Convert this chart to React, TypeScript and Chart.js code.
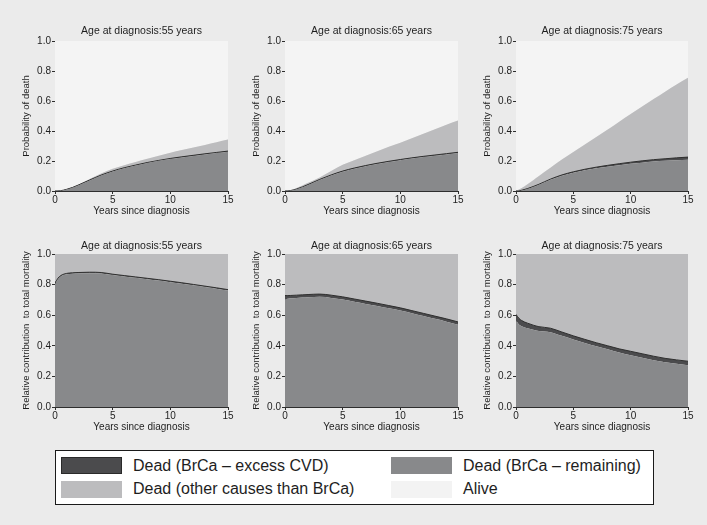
import React, { useEffect, useRef } from "react";
import { Chart, registerables } from "chart.js";

Chart.register(...registerables);

// ---------- data ----------
const YEARS = [0, 0.25, 0.5, 1, 1.5, 2, 3, 4, 5, 6, 7, 8, 9, 10, 11, 12, 13, 14, 15];
const X_TICKS = [0, 5, 10, 15];
const Y_TICKS = [0, 0.2, 0.4, 0.6, 0.8, 1.0];
const AGES = ["55", "65", "75"];

// Cumulative probability of death (upper boundary of each stacked band)
const PROB55_REMAINING = [0, 0.001, 0.002, 0.01, 0.022, 0.037, 0.07, 0.103, 0.13, 0.152, 0.17, 0.187, 0.201, 0.213, 0.224, 0.234, 0.244, 0.253, 0.262];
const PROB55_BRCA = [0, 0.001, 0.002, 0.011, 0.023, 0.039, 0.073, 0.106, 0.133, 0.155, 0.173, 0.19, 0.204, 0.217, 0.228, 0.238, 0.248, 0.257, 0.266];
const PROB55_TOTAL = [0, 0.001, 0.002, 0.012, 0.026, 0.042, 0.08, 0.117, 0.148, 0.172, 0.194, 0.215, 0.235, 0.255, 0.273, 0.29, 0.307, 0.325, 0.343];

const PROB65_REMAINING = [0, 0.001, 0.003, 0.012, 0.025, 0.04, 0.073, 0.103, 0.128, 0.148, 0.165, 0.18, 0.193, 0.205, 0.216, 0.226, 0.235, 0.244, 0.253];
const PROB65_BRCA = [0, 0.001, 0.003, 0.013, 0.027, 0.043, 0.077, 0.107, 0.133, 0.153, 0.17, 0.185, 0.198, 0.21, 0.221, 0.231, 0.24, 0.249, 0.258];
const PROB65_TOTAL = [0, 0.002, 0.006, 0.02, 0.037, 0.055, 0.09, 0.134, 0.175, 0.205, 0.235, 0.265, 0.295, 0.322, 0.352, 0.382, 0.412, 0.442, 0.47];

const PROB75_REMAINING = [0, 0.001, 0.004, 0.014, 0.027, 0.042, 0.075, 0.102, 0.122, 0.138, 0.151, 0.162, 0.172, 0.181, 0.189, 0.196, 0.201, 0.205, 0.209];
const PROB75_BRCA = [0, 0.001, 0.005, 0.016, 0.03, 0.045, 0.079, 0.107, 0.128, 0.145, 0.159, 0.171, 0.182, 0.192, 0.201, 0.209, 0.215, 0.221, 0.226];
const PROB75_TOTAL = [0, 0.01, 0.02, 0.045, 0.072, 0.1, 0.155, 0.21, 0.26, 0.31, 0.36, 0.41, 0.462, 0.513, 0.563, 0.613, 0.662, 0.71, 0.755];

// Relative contribution to total mortality (upper boundary of each band)
const REL55_REMAINING = [0.803, 0.835, 0.853, 0.867, 0.871, 0.873, 0.875, 0.873, 0.862, 0.853, 0.844, 0.835, 0.826, 0.816, 0.806, 0.795, 0.784, 0.773, 0.761];
const REL55_BRCA = [0.809, 0.841, 0.859, 0.873, 0.877, 0.879, 0.881, 0.879, 0.868, 0.859, 0.85, 0.841, 0.832, 0.822, 0.812, 0.801, 0.79, 0.779, 0.767];

const REL65_REMAINING = [0.705, 0.707, 0.71, 0.713, 0.715, 0.717, 0.72, 0.713, 0.702, 0.688, 0.674, 0.66, 0.645, 0.63, 0.612, 0.594, 0.576, 0.558, 0.538];
const REL65_BRCA = [0.728, 0.728, 0.729, 0.731, 0.733, 0.735, 0.738, 0.731, 0.72, 0.706, 0.692, 0.678, 0.663, 0.648, 0.63, 0.612, 0.594, 0.576, 0.556];

const REL75_REMAINING = [0.565, 0.54, 0.528, 0.515, 0.505, 0.497, 0.489, 0.465, 0.441, 0.418, 0.397, 0.377, 0.356, 0.338, 0.322, 0.306, 0.293, 0.283, 0.273];
const REL75_BRCA = [0.605, 0.58, 0.565, 0.548, 0.535, 0.525, 0.515, 0.49, 0.465, 0.442, 0.42, 0.4, 0.38, 0.364, 0.348, 0.332, 0.318, 0.308, 0.299];

const LABEL_EXCESS = "Dead (BrCa \u2013 excess CVD)";
const LABEL_REMAINING = "Dead (BrCa \u2013 remaining)";
const LABEL_OTHER = "Dead (other causes than BrCa)";
const LABEL_ALIVE = "Alive";

// ---------- style ----------
const FONT = "'Liberation Sans', Arial, Helvetica, sans-serif";
const BG = "#ebebeb";
const C_ALIVE = "#f4f4f4";
const C_OTHER = "#bcbcbe";
const C_REMAINING = "#88898b";
const C_EXCESS = "#4b4b4d";
const C_LINE = "#2e2e2e";
const C_TEXT = "#1e1e1e";

type Area = { l: number; t: number; r: number; b: number };

const Y_AXIS_W = 34;
const X_AXIS_H = 26;
const PAD_R = 8;
const PAD_B = 4;
const TITLE_SIZE = 10.5;
const TITLE_LH = TITLE_SIZE * 1.2;

function Panel(props: {
  title: string;
  yTitle: string;
  remaining: number[];
  brca: number[];
  total?: number[];
  area: Area;
  titleGap: number;
}) {
  const ref = useRef<HTMLCanvasElement | null>(null);
  const { area, titleGap } = props;
  const left = area.l - 55;
  const top = area.t - 40;
  const width = area.r - left + PAD_R;
  const height = area.b - top + X_AXIS_H + PAD_B;
  const titleBottomPad = titleGap - TITLE_LH / 2;
  const padTop = 40 - TITLE_LH - titleBottomPad;

  useEffect(() => {
    if (!ref.current) return;
    const mk = (arr: number[]) => YEARS.map((x, i) => ({ x, y: arr[i] }));
    const common = { pointRadius: 0, borderWidth: 0, cubicInterpolationMode: "monotone" as const };
    const datasets: any[] = [
      { ...common, label: LABEL_REMAINING, data: mk(props.remaining), fill: "origin", backgroundColor: C_REMAINING, borderColor: C_REMAINING },
      { ...common, label: LABEL_EXCESS, data: mk(props.brca), fill: "-1", backgroundColor: C_EXCESS, borderColor: C_LINE, borderWidth: 1 },
    ];
    if (props.total) {
      datasets.push({ ...common, label: LABEL_OTHER, data: mk(props.total), fill: "-1", backgroundColor: C_OTHER, borderColor: C_OTHER });
      datasets.push({ ...common, label: LABEL_ALIVE, data: mk(props.total), fill: "end", backgroundColor: C_ALIVE, borderColor: C_ALIVE });
    } else {
      datasets.push({ ...common, label: LABEL_OTHER, data: mk(props.brca), fill: "end", backgroundColor: C_OTHER, borderColor: C_OTHER });
    }

    const chart = new Chart(ref.current, {
      type: "line",
      data: { datasets },
      options: {
        animation: false,
        responsive: false,
        devicePixelRatio: 1,
        layout: { padding: { left: 55 - Y_AXIS_W, top: padTop, right: PAD_R, bottom: PAD_B } },
        plugins: {
          legend: { display: false },
          tooltip: { enabled: false },
          title: {
            display: true,
            fullSize: false,
            text: props.title,
            color: C_TEXT,
            font: { family: FONT, size: TITLE_SIZE, weight: "normal" },
            padding: { top: 0, bottom: titleBottomPad },
          },
        },
        scales: {
          x: {
            type: "linear",
            min: 0,
            max: 15,
            z: 1,
            afterBuildTicks: (s: any) => { s.ticks = X_TICKS.map((v) => ({ value: v })); },
            afterFit: (s: any) => { s.height = X_AXIS_H; },
            ticks: { color: C_TEXT, padding: 0, maxRotation: 0, font: { family: FONT, size: 10 } },
            grid: { drawOnChartArea: false, tickLength: 3, color: C_LINE, lineWidth: 1 },
            border: { display: true, color: C_LINE, width: 1 },
            title: { display: true, text: "Years since diagnosis", color: C_TEXT, padding: 0, font: { family: FONT, size: 10 } },
          },
          y: {
            type: "linear",
            min: 0,
            max: 1,
            z: 1,
            afterBuildTicks: (s: any) => { s.ticks = Y_TICKS.map((v) => ({ value: v })); },
            afterFit: (s: any) => { s.width = Y_AXIS_W; },
            ticks: { color: C_TEXT, padding: 1, font: { family: FONT, size: 10 }, callback: (v: any) => Number(v).toFixed(1) },
            grid: { drawOnChartArea: false, tickLength: 3, color: C_LINE, lineWidth: 1 },
            border: { display: true, color: C_LINE, width: 1 },
            title: { display: true, text: props.yTitle, color: C_TEXT, padding: 0, font: { family: FONT, size: 9.5 } },
          },
        },
      } as any,
    });
    return () => chart.destroy();
  }, []);

  return (
    <canvas
      ref={ref}
      width={width}
      height={height}
      style={{ position: "absolute", left, top, width, height }}
    />
  );
}

function Swatch(props: { x: number; y: number; color: string; border?: string }) {
  return (
    <div
      style={{
        position: "absolute",
        left: props.x,
        top: props.y,
        width: 61,
        height: 17,
        boxSizing: "border-box",
        background: props.color,
        border: props.border ? `1px solid ${props.border}` : "none",
      }}
    />
  );
}

function LegendText(props: { x: number; y: number; text: string }) {
  return (
    <div
      style={{
        position: "absolute",
        left: props.x,
        top: props.y,
        height: 20,
        lineHeight: "20px",
        fontFamily: FONT,
        fontSize: 16,
        color: C_TEXT,
        whiteSpace: "nowrap",
      }}
    >
      {props.text}
    </div>
  );
}

export default function App() {
  const colL = [55, 285, 516];
  const colR = [228, 458, 688];
  const topArea = { t: 41, b: 191 };
  const botArea = { t: 254, b: 407 };
  const probData = [
    [PROB55_REMAINING, PROB55_BRCA, PROB55_TOTAL],
    [PROB65_REMAINING, PROB65_BRCA, PROB65_TOTAL],
    [PROB75_REMAINING, PROB75_BRCA, PROB75_TOTAL],
  ];
  const relData = [
    [REL55_REMAINING, REL55_BRCA],
    [REL65_REMAINING, REL65_BRCA],
    [REL75_REMAINING, REL75_BRCA],
  ];

  return (
    <div style={{ position: "absolute", left: 0, top: 0, width: 707, height: 525, background: BG, overflow: "hidden" }}>
      {AGES.map((age, i) => (
        <Panel
          key={"p" + age}
          title={`Age at diagnosis:${age} years`}
          yTitle="Probability of death"
          remaining={probData[i][0]}
          brca={probData[i][1]}
          total={probData[i][2]}
          area={{ l: colL[i], r: colR[i], t: topArea.t, b: topArea.b }}
          titleGap={10}
        />
      ))}
      {AGES.map((age, i) => (
        <Panel
          key={"r" + age}
          title={`Age at diagnosis:${age} years`}
          yTitle="Relative contribution  to total mortality"
          remaining={relData[i][0]}
          brca={relData[i][1]}
          area={{ l: colL[i], r: colR[i], t: botArea.t, b: botArea.b }}
          titleGap={7.6}
        />
      ))}
      <div
        style={{
          position: "absolute",
          left: 55,
          top: 450,
          width: 599,
          height: 55,
          boxSizing: "border-box",
          background: "#ffffff",
          border: "1px solid #1a1a1a",
        }}
      />
      <Swatch x={61} y={457} color={C_EXCESS} border="#2a2a2a" />
      <LegendText x={133} y={456} text={LABEL_EXCESS} />
      <Swatch x={61} y={481} color={C_OTHER} />
      <LegendText x={133} y={479} text={LABEL_OTHER} />
      <Swatch x={391} y={457} color={C_REMAINING} />
      <LegendText x={463} y={456} text={LABEL_REMAINING} />
      <Swatch x={391} y={481} color="#f3f3f3" />
      <LegendText x={463} y={479} text={LABEL_ALIVE} />
    </div>
  );
}
